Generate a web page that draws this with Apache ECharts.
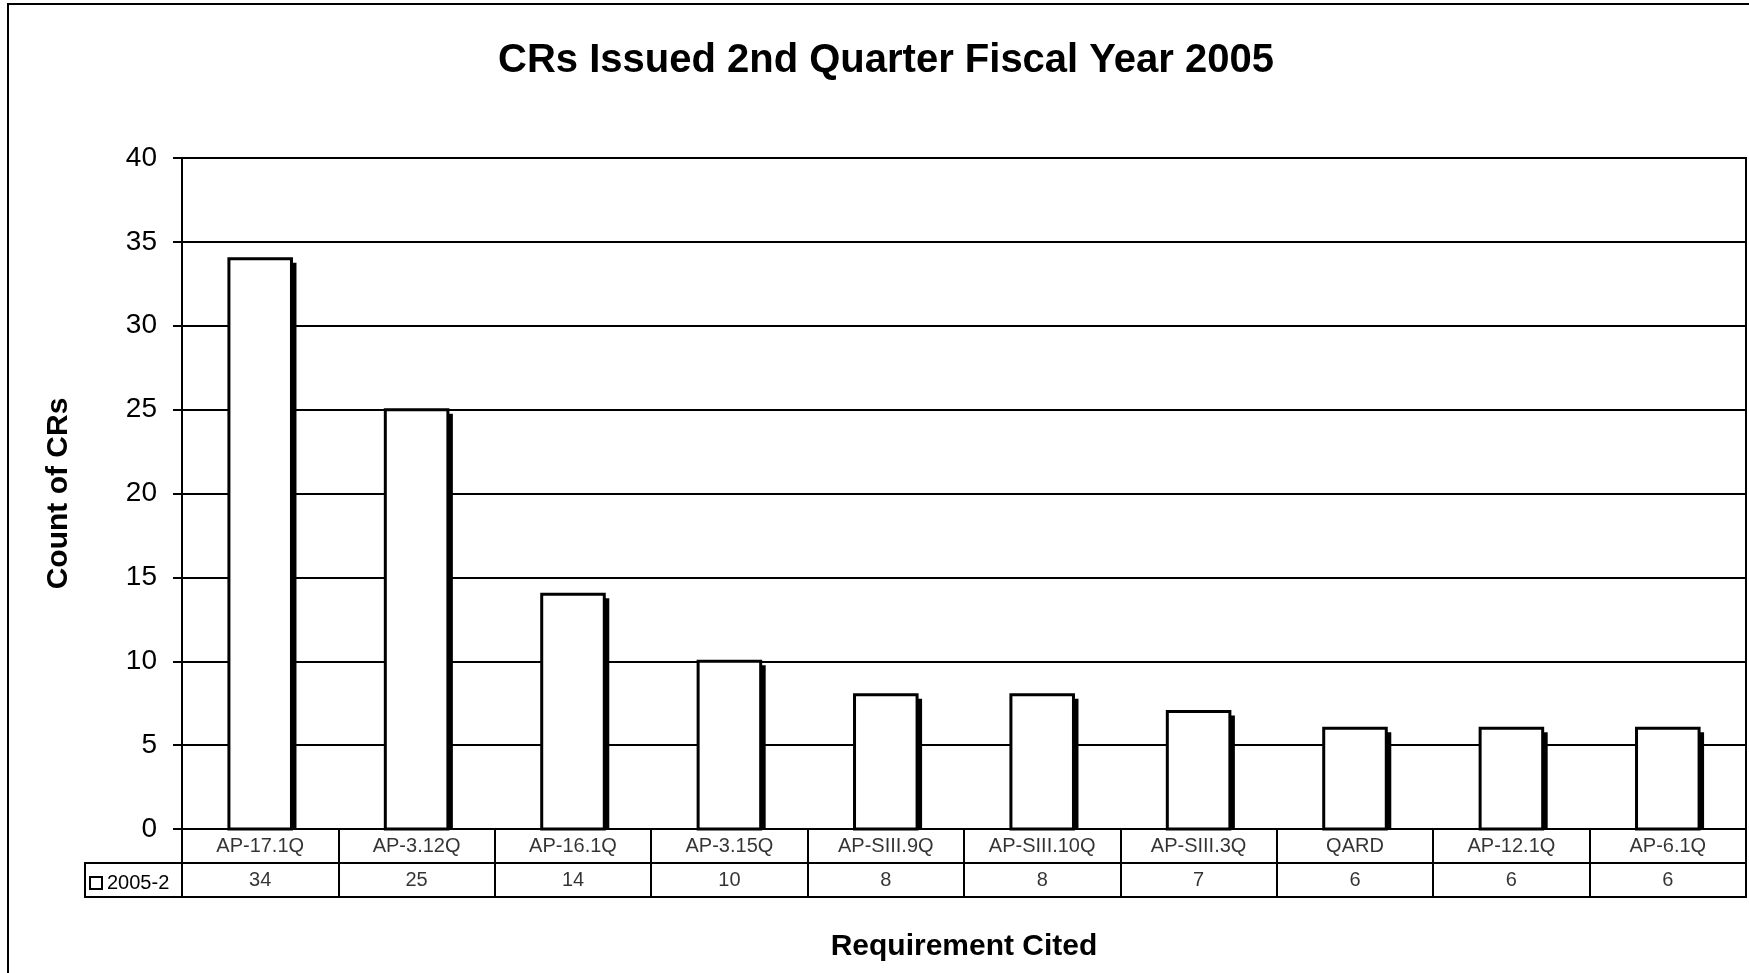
<!DOCTYPE html>
<html>
<head>
<meta charset="utf-8">
<script src="https://cdn.jsdelivr.net/npm/echarts@6/dist/echarts.min.js"></script>
<style>
html,body{margin:0;padding:0;background:#fff;}
#chart{width:1749px;height:973px;}
</style>
</head>
<body>
<div id="chart"></div>
<script>
var categories = ['AP-17.1Q','AP-3.12Q','AP-16.1Q','AP-3.15Q','AP-SIII.9Q','AP-SIII.10Q','AP-SIII.3Q','QARD','AP-12.1Q','AP-6.1Q'];
var seriesName = '2005-2';
var values = [34, 25, 14, 10, 8, 8, 7, 6, 6, 6];
var tableRows = ['cat', 'val'];

var FONT = '"Liberation Sans", Arial, sans-serif';
var tableData = [];
categories.forEach(function (c, i) {
  tableData.push({ value: [c, 'cat'], label: { formatter: c } });
  tableData.push({ value: [c, 'val'], label: { formatter: String(values[i]) } });
});
var barData = values.map(function (v, i) { return [i, v]; });

function renderBar(params, api) {
  var idx = api.value(0);
  var top = api.coord([idx, api.value(1)]);
  var base = api.coord([idx, 0]);
  var w = api.size([1, 0])[0] * 0.4;
  var x = top[0] - w / 2;
  var y = top[1];
  var h = base[1] - top[1];
  return {
    type: 'group',
    children: [
      { type: 'rect', shape: { x: x + 5, y: y + 4, width: w, height: h - 4 }, style: { fill: '#000' } },
      { type: 'rect', shape: { x: x, y: y, width: w, height: h }, style: { fill: '#fff', stroke: '#000', lineWidth: 3 } }
    ]
  };
}

var chart = echarts.init(document.getElementById('chart'), null, { renderer: 'canvas' });
chart.setOption({
  backgroundColor: '#fff',
  animation: false,
  textStyle: { fontFamily: FONT, color: '#000' },
  title: {
    text: 'CRs Issued 2nd Quarter Fiscal Year 2005',
    left: 881, top: 36, textAlign: 'center',
    textStyle: { fontFamily: FONT, fontSize: 40, fontWeight: 'bold', color: '#000' }
  },
  legend: {
    data: [{ name: seriesName, icon: 'rect' }],
    left: 84, top: 868,
    itemWidth: 12, itemHeight: 12, itemGap: 0,
    itemStyle: { color: '#fff', borderColor: '#000', borderWidth: 2 },
    textStyle: { fontFamily: FONT, fontSize: 20, color: '#000' }
  },
  graphic: [
    { type: 'rect', shape: { x: 8, y: 4, width: 1800, height: 1000 }, style: { fill: 'none', stroke: '#000', lineWidth: 2 }, silent: true, z: -10 },
    { type: 'rect', shape: { x: 85, y: 863, width: 97, height: 34 }, style: { fill: 'none', stroke: '#000', lineWidth: 2 }, silent: true }
  ],
  grid: [
    { left: 182, right: 3, top: 158, bottom: 144, show: true, borderColor: '#000', borderWidth: 2, containLabel: false },
    { left: 182, right: 3, top: 829, bottom: 76, show: true, borderColor: '#000', borderWidth: 2, containLabel: false }
  ],
  xAxis: [
    {
      gridIndex: 0, type: 'category', data: categories, boundaryGap: true,
      axisLine: { show: true, lineStyle: { color: '#000', width: 2 } },
      axisTick: { show: false }, axisLabel: { show: false }, splitLine: { show: false }
    },
    {
      gridIndex: 1, type: 'category', data: categories, boundaryGap: true,
      axisLine: { show: false }, axisTick: { show: false }, axisLabel: { show: false },
      splitLine: { show: true, interval: 0, lineStyle: { color: '#000', width: 2 } },
      name: 'Requirement Cited', nameLocation: 'middle', nameGap: 35,
      nameTextStyle: { fontFamily: FONT, fontSize: 30, fontWeight: 'bold', color: '#000' }
    }
  ],
  yAxis: [
    {
      gridIndex: 0, type: 'value', min: 0, max: 40, interval: 5,
      axisLine: { show: true, lineStyle: { color: '#000', width: 2 } },
      axisTick: { show: true, length: 9, lineStyle: { color: '#000', width: 2 } },
      axisLabel: { fontFamily: FONT, fontSize: 28, color: '#000', margin: 25 },
      splitLine: { show: true, lineStyle: { color: '#000', width: 2 } },
      name: 'Count of CRs', nameLocation: 'middle', nameGap: 108,
      nameTextStyle: { fontFamily: FONT, fontSize: 30, fontWeight: 'bold', color: '#000' }
    },
    {
      gridIndex: 1, type: 'category', data: tableRows, inverse: true, boundaryGap: true,
      axisLine: { show: false }, axisTick: { show: false }, axisLabel: { show: false },
      splitLine: { show: true, interval: 0, lineStyle: { color: '#000', width: 2 } }
    }
  ],
  series: [
    {
      name: seriesName, type: 'custom', xAxisIndex: 0, yAxisIndex: 0,
      data: barData, renderItem: renderBar,
      itemStyle: { color: '#fff', borderColor: '#000', borderWidth: 2 },
      encode: { x: 0, y: 1 },
      z: 3
    },
    {
      name: 'table', type: 'scatter', xAxisIndex: 1, yAxisIndex: 1,
      data: tableData, symbolSize: 1,
      itemStyle: { color: 'transparent' },
      label: { show: true, position: 'inside', fontFamily: FONT, fontSize: 20, color: '#000' },
      silent: true
    }
  ]
});
</script>
</body>
</html>
